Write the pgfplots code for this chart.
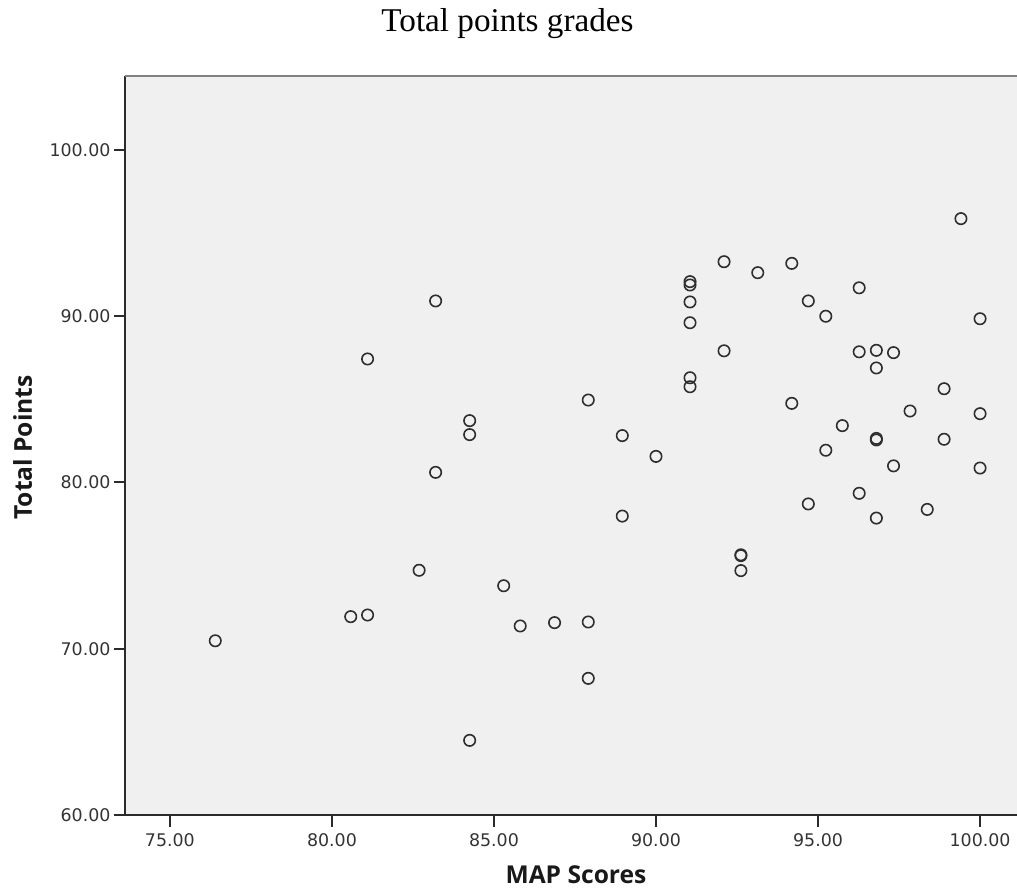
\documentclass[border=0pt]{standalone}
\usepackage{pgfplots}
\usepackage{pgfplotstable}
\pgfplotsset{compat=1.18}
\usepackage{fontspec}
\setmainfont{DejaVu Sans}
\newfontfamily\titlefont{Liberation Serif}
\newfontfamily\labfont{Open Sans}
\definecolor{bg}{HTML}{F0F0F0}
\definecolor{axc}{HTML}{2B2B2B}
\definecolor{mk}{HTML}{2E2E2E}
\definecolor{tk}{HTML}{333333}
\definecolor{topc}{HTML}{808080}

\pgfplotstableread{
x y
76.40 70.48
80.58 71.93
81.10 72.03
81.10 87.43
82.69 74.72
83.20 90.92
83.20 80.61
84.25 83.72
84.25 82.88
84.25 64.49
85.30 73.79
85.81 71.37
86.87 71.57
87.91 71.61
87.91 68.22
87.91 84.96
88.96 82.82
88.96 77.98
90.00 81.57
91.05 92.08
91.05 91.88
91.05 90.86
91.05 89.61
91.05 86.30
91.05 85.76
92.10 93.28
92.10 87.92
92.62 75.65
92.62 75.60
92.62 74.70
93.14 92.62
94.19 93.18
94.19 84.76
94.70 90.92
94.70 78.71
95.24 90.00
95.24 81.94
95.75 83.42
96.27 91.71
96.27 87.86
96.27 79.35
96.80 87.95
96.80 86.89
96.80 82.65
96.80 82.56
96.80 77.86
97.33 87.81
97.33 81.00
97.84 84.30
98.37 78.38
98.89 85.64
98.89 82.60
99.41 95.87
100.00 89.85
100.00 84.14
100.00 80.87
}\data

\begin{document}
\begin{tikzpicture}
\begin{axis}[
  name=ax, scale only axis, width=445.75pt, height=369.5pt,
  xmin=73.63, xmax=101.14, ymin=60, ymax=104.45,
  axis x line*=bottom, axis y line*=left,
  axis line style={-, draw=axc, line width=1pt},
  axis background/.style={fill=bg},
  xtick={75,80,...,100}, ytick={60,70,...,100},
  tick align=outside, major tick length=5.8pt,
  every tick/.style={draw=axc, line width=1pt},
  minor tick num=0,
  ticklabel style={font=\fontsize{8.7}{10}\selectfont, text=tk},
  yticklabel style={xshift=1.8pt},
  /pgf/number format/.cd, fixed, fixed zerofill, precision=2, assume math mode=true,
  /pgfplots/.cd,
  clip=false,
]
\addplot[only marks, mark=o, mark size=2.85pt, mark options={draw=mk, line width=0.8pt}] table {\data};
\draw[draw=topc, line width=1pt] (rel axis cs:0,1) -- (rel axis cs:1,1);
\end{axis}
\node[anchor=base, font=\titlefont\fontsize{16.6}{20}\selectfont] at ([xshift=191pt,yshift=22pt]ax.north west) {Total points grades};
\node[anchor=base, font=\labfont\bfseries\fontsize{12.3}{14}\selectfont, text=black!90] at ([xshift=225.25pt,yshift=-34pt]ax.south west) {MAP Scores};
\node[anchor=base, rotate=90, font=\labfont\bfseries\fontsize{12.3}{14}\selectfont, text=black!90] at ([xshift=-46.75pt,yshift=183.75pt]ax.south west) {Total Points};
\pgfresetboundingbox
\path[use as bounding box] ([xshift=-62.75pt,yshift=-37.5pt]ax.south west) rectangle ([yshift=38pt]ax.north east);
\end{tikzpicture}
\end{document}
